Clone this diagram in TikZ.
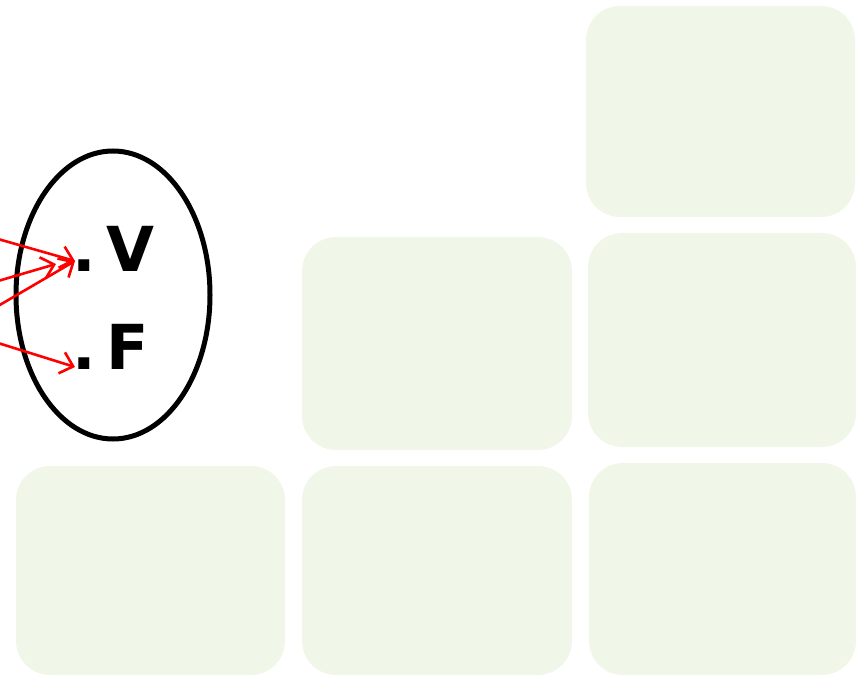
\documentclass[tikz,border=0pt]{standalone}
\usepackage{fontspec}
\newfontfamily\dejab{DejaVu Sans}[BoldFont={DejaVu Sans Bold}]
\usetikzlibrary{arrows.meta}
\definecolor{pale}{HTML}{F0F7E9}
\definecolor{arr}{HTML}{FF0000}
\tikzset{
  panel/.style={fill=pale, rounded corners=34pt},
  lbl/.style={font=\dejab\bfseries\fontsize{62}{62}\selectfont, inner sep=0pt, anchor=base west},
  ptr/.style={draw=arr, line width=2.6pt, -{Straight Barb[length=12pt,width=22pt,line width=2.6pt]}},
  oval/.style={draw=black, line width=5pt}
}
\begin{document}
\begin{tikzpicture}[x=1pt,y=-1pt]
\useasboundingbox (0,0) rectangle (856,676);
% green panels
\fill[panel] (586,6) rectangle (855,217);
\fill[panel] (302,237) rectangle (572,450);
\fill[panel] (588,233) rectangle (856,447);
\fill[panel] (16,466) rectangle (285,675);
\fill[panel] (302,466) rectangle (572,675);
\fill[panel] (589,463) rectangle (856,675);
% ellipse
\draw[oval] (113,295) ellipse [x radius=97, y radius=144];
% labels
\node[lbl] (V) at (72,271) {.\hspace{0.17em}V};
\node[lbl] (F) at (72,369) {.\hspace{0.17em}F};
% arrows
\coordinate (s1) at (-2,239);
\coordinate (s2) at (-2,281);
\coordinate (s3) at (-2,306);
\coordinate (s4) at (-2,343);
\coordinate (tv) at (75,261);
\coordinate (tv2) at (56,264);
\coordinate (tf) at (75,367);
\draw[ptr] (s1) -- (tv);
\draw[ptr] (s2) -- (tv2);
\draw[ptr] (s3) -- (tv);
\draw[ptr] (s4) -- (tf);
\end{tikzpicture}
\end{document}
